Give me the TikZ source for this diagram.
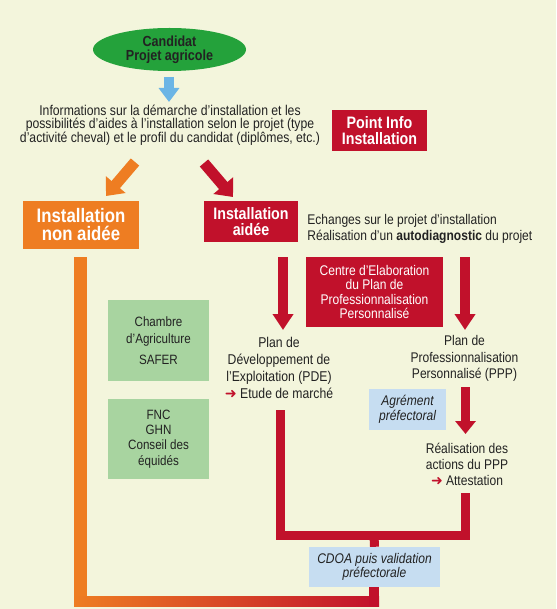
\documentclass[tikz,border=0pt]{standalone}
\usepackage{fontspec}
\setmainfont{Liberation Sans}[FakeStretch=0.86]
\newfontfamily\symbfont{DejaVu Sans}
\usetikzlibrary{arrows.meta,shapes.geometric,positioning,calc}

\definecolor{cream}{HTML}{F3F5DC}
\definecolor{leaf}{HTML}{24A23B}
\definecolor{wine}{HTML}{C1112B}
\definecolor{carrot}{HTML}{EE7D22}
\definecolor{mint}{HTML}{A8D4A0}
\definecolor{sky}{HTML}{C6DDF1}
\definecolor{azure}{HTML}{6BB5E5}
\definecolor{ink}{HTML}{222222}

\newcommand{\redtip}{{\color{wine}\symbfont\bfseries ➜}}

\tikzset{
startnode/.style = {fill=leaf, ellipse, minimum width=153pt, minimum height=43pt, inner sep=0pt, align=center, text=ink, font=\bfseries\fontsize{14.6}{13.6}\selectfont},
txt/.style       = {align=center, inner sep=0pt, text=ink, font=\fontsize{14}{16}\selectfont},
redbox/.style    = {fill=wine, text=white, align=center, inner sep=0pt},
orangebox/.style = {fill=carrot, text=white, align=center, inner sep=0pt},
greenbox/.style  = {fill=mint, text=ink, align=center, inner sep=0pt, minimum width=101pt},
bluebox/.style   = {fill=sky, text=ink, align=center, inner sep=0pt, font=\itshape\fontsize{14}{15}\selectfont},
bigarrow/.style  = {line width=10pt, -{Triangle[width=20pt,length=16pt]}},
slantarrow/.style= {line width=11pt, -{Triangle[width=25pt,length=15pt]}},
redline/.style   = {wine, line width=9pt}
}

\begin{document}
\begin{tikzpicture}[x=1pt, y=-1pt]
  \fill [cream] (0,0) rectangle (556,609);
  \useasboundingbox (0,0) rectangle (556,609);

  \node [startnode]                                                   (cand)  at (169.5,49.5) {Candidat\\Projet agricole};
  \node [txt, font=\fontsize{14.2}{13.5}\selectfont]                  (info)  at (170,125)    {Informations sur la démarche d'installation et les\\possibilités d'aides à l'installation selon le projet (type\\d'activité cheval) et le profil du candidat (diplômes, etc.)};
  \node [redbox, minimum width=95pt, minimum height=41pt,
         font=\bfseries\fontsize{16.6}{15.5}\selectfont]              (pii)   at (379.5,130.5) {Point Info\\Installation};
  \node [orangebox, minimum width=116pt, minimum height=48pt,
         font=\bfseries\fontsize{19.5}{18}\selectfont]                (nona)  at (81,225)     {Installation\\non aidée};
  \node [redbox, minimum width=94pt, minimum height=41pt,
         font=\bfseries\fontsize{16.6}{16}\selectfont]                (aidee) at (251,221.5)  {Installation\\aidée};
  \node [txt, align=left, right=9pt of aidee, yshift=-7.5pt]          (echg)                  {Echanges sur le projet d'installation\\Réalisation d'un \textbf{autodiagnostic} du projet};
  \node [redbox, minimum width=137pt, minimum height=70pt,
         font=\fontsize{14}{14.5}\selectfont]                         (cepp)  at (374.5,292)  {Centre d'Elaboration\\du Plan de\\Professionnalisation\\Personnalisé};
  \node [greenbox, minimum height=81pt, font=\fontsize{13.5}{17}\selectfont]   (cha) at (158.5,340.5) {Chambre\\d'Agriculture\\[4pt]SAFER};
  \node [greenbox, minimum height=80pt, font=\fontsize{13.5}{15.3}\selectfont] (fnc) at (158.5,439)   {FNC\\GHN\\Conseil des\\équidés};
  \node [txt, font=\fontsize{14.2}{17}\selectfont]                    (pde)   at (279,367.5)  {Plan de\\Développement de\\l'Exploitation (PDE)\\\redtip~Etude de marché};
  \node [txt, font=\fontsize{14}{16.5}\selectfont]                    (ppp)   at (464.5,358.5) {Plan de\\Professionnalisation\\Personnalisé (PPP)};
  \node [bluebox, minimum width=77pt, minimum height=41pt]            (agr)   at (407.5,409.5) {Agrément\\préfectoral};
  \node [txt]                                                         (real)  at (467,464)    {Réalisation des\\actions du PPP\\\redtip~Attestation};
  \node [bluebox, minimum width=131pt, minimum height=40pt,
         font=\itshape\fontsize{14}{14}\selectfont]                   (cdoa)  at (374.5,567)  {CDOA puis validation\\préfectorale};

  % arrow ends
  \coordinate (blueA) at (169,77);    \coordinate (blueB) at (169,102);
  \coordinate (oraA)  at (135,162);   \coordinate (oraB)  at (106,196);
  \coordinate (winA)  at (204,163);   \coordinate (winB)  at (233,197);
  \coordinate (pdeA)  at (283,257);   \coordinate (pdeB)  at (283,330);
  \coordinate (pppA)  at (465,257);   \coordinate (pppB)  at (465,330);
  \coordinate (agrA)  at (465.5,387); \coordinate (agrB)  at (465.5,434);
  \coordinate (pdeD)  at (280,410);   \coordinate (realD) at (465.5,493);
  \coordinate (busL)  at (280,535);   \coordinate (busR)  at (465.5,535);
  \coordinate (busM)  at (374,535);
  \coordinate (bandT) at (74,257);    \coordinate (bandL) at (74,596);
  \coordinate (bandR) at (379,606);   \coordinate (stubT) at (369,587);

  \draw [azure, line width=10pt, -{Triangle[width=20pt,length=14pt]}] (blueA) -- (blueB);
  \draw [carrot, slantarrow] (oraA) -- (oraB);
  \draw [wine, slantarrow]   (winA) -- (winB);
  \draw [wine, bigarrow]     (pdeA) -- (pdeB);
  \draw [wine, bigarrow]     (pppA) -- (pppB);
  \draw [wine, line width=9pt, -{Triangle[width=20pt,length=13pt]}] (agrA) -- (agrB);

  \draw [redline] (pdeD) -- (busL) -- (busR) -- (realD);
  \draw [redline] (busM) -- (cdoa.north);

  \fill [carrot] (bandT) rectangle (87,606);
  \shade [left color=carrot, right color=wine] (bandL) rectangle (bandR);
  \fill [wine] (stubT) rectangle (bandR);
\end{tikzpicture}
\end{document}
